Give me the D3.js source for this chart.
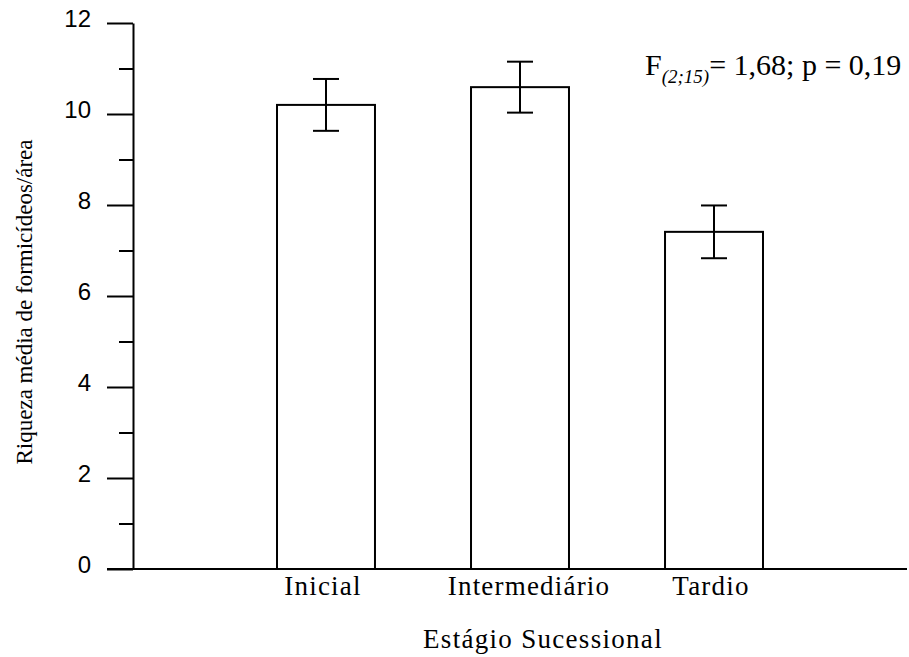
<!DOCTYPE html>
<html>
<head>
<meta charset="utf-8">
<script src="https://cdn.jsdelivr.net/npm/d3@7"></script>
<style>
    body { margin: 0; background: #fff; }
    svg { display: block; }
</style>
</head>
<body>
<div id="chart"></div>
<script>
// dados
let stages = ["Inicial", "Intermediário", "Tardio"];
let means = [10.2, 10.59, 7.41];
let errors = [0.57, 0.56, 0.58];
let majorTicks = [0, 2, 4, 6, 8, 10, 12];
let minorTicks = [1, 3, 5, 7, 9, 11];

let width = 909;
let height = 657;

let svg = d3.select("#chart")
    .append("svg")
        .attr("width", width)
        .attr("height", height);

let data = stages.map(function(s, i){
    return {stage: s, mean: means[i], err: errors[i]};
});

let yScale = d3.scaleLinear()
    .domain([0, 12])
    .range([569, 23]);

let xScale = d3.scaleBand()
    .domain(stages)
    .range([180, 860])
    .paddingInner(0.495)
    .paddingOuter(0.5);

let axisX = 133;

// eixo y - marcas principais
let yAxis = svg.append("g")
    .attr("transform", "translate(" + axisX + ",0)")
    .call(d3.axisLeft(yScale).tickValues(majorTicks).tickSize(26).tickPadding(16).tickSizeOuter(0))
    .style("font-family", "'Liberation Sans', sans-serif")
    .style("font-size", "24px");

yAxis.select(".domain").attr("stroke", "#000").attr("stroke-width", 2);
yAxis.selectAll(".tick line").attr("stroke", "#000").attr("stroke-width", 2);
yAxis.selectAll(".tick text").attr("fill", "#000").attr("dy", "0.15em");

// marcas secundarias
let yMinor = svg.append("g")
    .attr("transform", "translate(" + axisX + ",0)")
    .call(d3.axisLeft(yScale).tickValues(minorTicks).tickSize(14).tickFormat("").tickSizeOuter(0));
yMinor.select(".domain").remove();
yMinor.selectAll(".tick line").attr("stroke", "#000").attr("stroke-width", 2);

// eixo x (linha sem marcas)
svg.append("line")
    .attr("x1", axisX - 26)
    .attr("x2", 907)
    .attr("y1", yScale(0))
    .attr("y2", yScale(0))
    .attr("stroke", "#000")
    .attr("stroke-width", 2);

// barras
svg.selectAll(".bar")
    .data(data)
    .enter()
    .append("rect")
        .attr("class", "bar")
        .attr("x", function(d){ return xScale(d.stage); })
        .attr("y", function(d){ return yScale(d.mean); })
        .attr("width", xScale.bandwidth())
        .attr("height", function(d){ return yScale(0) - yScale(d.mean); })
        .attr("fill", "#fff")
        .attr("stroke", "#000")
        .attr("stroke-width", 2);

// barras de erro
let capHalf = 13;
let err = svg.selectAll(".err")
    .data(data)
    .enter()
    .append("g")
        .attr("class", "err")
        .attr("stroke", "#000")
        .attr("stroke-width", 2);

err.append("line")
    .attr("x1", function(d){ return xScale(d.stage) + xScale.bandwidth()/2; })
    .attr("x2", function(d){ return xScale(d.stage) + xScale.bandwidth()/2; })
    .attr("y1", function(d){ return yScale(d.mean + d.err); })
    .attr("y2", function(d){ return yScale(d.mean - d.err); });

err.append("line")
    .attr("x1", function(d){ return xScale(d.stage) + xScale.bandwidth()/2 - capHalf; })
    .attr("x2", function(d){ return xScale(d.stage) + xScale.bandwidth()/2 + capHalf; })
    .attr("y1", function(d){ return yScale(d.mean + d.err); })
    .attr("y2", function(d){ return yScale(d.mean + d.err); });

err.append("line")
    .attr("x1", function(d){ return xScale(d.stage) + xScale.bandwidth()/2 - capHalf; })
    .attr("x2", function(d){ return xScale(d.stage) + xScale.bandwidth()/2 + capHalf; })
    .attr("y1", function(d){ return yScale(d.mean - d.err); })
    .attr("y2", function(d){ return yScale(d.mean - d.err); });

// rotulos do eixo x
svg.selectAll(".xlabel")
    .data(data)
    .enter()
    .append("text")
        .attr("class", "xlabel")
        .attr("x", function(d){ return xScale(d.stage) + xScale.bandwidth()/2 + (d.stage == "Intermediário" ? 9 : -3); })
        .attr("y", 595)
        .attr("text-anchor", "middle")
        .style("font-family", "'Liberation Serif', serif")
        .style("font-size", "27px")
        .style("letter-spacing", "1.2px")
        .text(function(d){ return d.stage; });

// titulos dos eixos
svg.append("text")
    .attr("x", 543)
    .attr("y", 648)
    .attr("text-anchor", "middle")
    .style("font-family", "'Liberation Serif', serif")
    .style("font-size", "27px")
    .style("letter-spacing", "1.3px")
    .text("Estágio Sucessional");

svg.append("text")
    .attr("transform", "translate(32,302) rotate(-90)")
    .attr("text-anchor", "middle")
    .style("font-family", "'Liberation Serif', serif")
    .style("font-size", "23px")
    .text("Riqueza média de formicídeos/área");

// estatistica
let stat = svg.append("text")
    .attr("x", 645)
    .attr("y", 75)
    .style("font-family", "'Liberation Serif', serif")
    .style("font-size", "30px");
stat.append("tspan").text("F");
stat.append("tspan")
    .attr("dy", 8)
    .style("font-size", "19px")
    .style("font-style", "italic")
    .text("(2;15)");
stat.append("tspan")
    .attr("dy", -8)
    .text("= 1,68; p = 0,19");
</script>
</body>
</html>
